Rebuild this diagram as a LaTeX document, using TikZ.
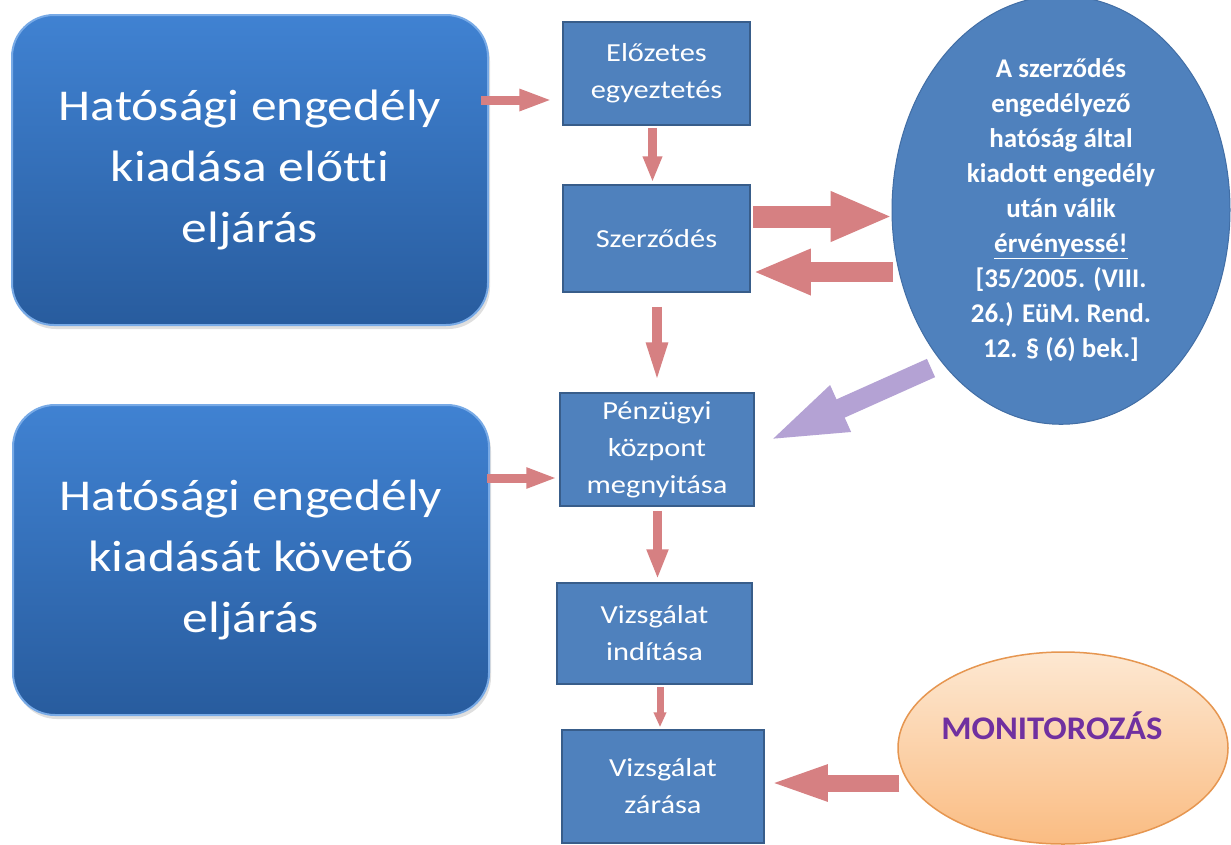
\documentclass[tikz,border=0pt]{standalone}
\usepackage{fontspec}
\setmainfont{Carlito}[FakeStretch=1.17,RawFeature={-liga;-clig;-calt;-dlig}]
\newfontfamily\ellfont{Carlito}[FakeStretch=1.0,RawFeature={-liga;-clig;-calt;-dlig}]
\newfontfamily\monfont{Carlito}[FakeStretch=1.05,RawFeature={-liga;-clig;-calt;-dlig}]
\usetikzlibrary{arrows.meta,shapes.geometric,calc,shadows}
\definecolor{bigtop}{RGB}{64,130,210}
\definecolor{bigbot}{RGB}{40,92,158}
\definecolor{bigedge}{RGB}{120,170,230}
\definecolor{boxfill}{RGB}{79,129,189}
\definecolor{boxedge}{RGB}{56,93,138}
\definecolor{ellfill}{RGB}{79,129,189}
\definecolor{elledge}{RGB}{66,110,165}
\definecolor{arrowpink}{RGB}{214,128,130}
\definecolor{arrowpurple}{RGB}{180,162,212}
\definecolor{montop}{RGB}{253,232,210}
\definecolor{monbot}{RGB}{250,188,130}
\definecolor{monedge}{RGB}{230,150,80}
\definecolor{montext}{RGB}{112,48,160}
\begin{document}
\begin{tikzpicture}[x=1pt,y=-1pt,
  bigbox/.style={rectangle,rounded corners=42pt,top color=bigtop,bottom color=bigbot,
    draw=bigedge,line width=2pt,minimum width=476pt,minimum height=310pt,
    text=white,align=center,font=\fontsize{44}{61}\selectfont,
    drop shadow={opacity=0.25,shadow xshift=2pt,shadow yshift=-4pt}},
  smallbox/.style={rectangle,fill=boxfill,draw=boxedge,line width=1.5pt,
    text=white,align=center,font=\fontsize{26}{37}\selectfont,inner sep=0pt},
  pinkarrow/.style={draw=arrowpink,fill=arrowpink},
  purplearrow/.style={draw=arrowpurple,fill=arrowpurple}
]
\useasboundingbox (0,0) rectangle (1231,844);
\fill[white] (0,0) rectangle (1231,844);

% big rounded boxes
\node[bigbox] (b1) at (250,170) {Hatósági engedély\\kiadása előtti\\eljárás};
\node[bigbox] (b2) at (251,560) {Hatósági engedély\\kiadását követő\\eljárás};

% small process boxes
\node[smallbox,minimum width=187pt,minimum height=103pt] (e1) at (656.5,73.5) {Előzetes\\egyeztetés};
\node[smallbox,minimum width=187pt,minimum height=107pt] (sz) at (656.5,238.5) {Szerződés};
\node[smallbox,minimum width=194pt,minimum height=113pt] (pk) at (657,449.5) {Pénzügyi\\központ\\megnyitása};
\node[smallbox,minimum width=195pt,minimum height=101pt] (vi) at (654.5,633.5) {Vizsgálat\\indítása};
\node[smallbox,minimum width=202pt,minimum height=113pt] (vz) at (663,786.5) {Vizsgálat\\zárása};

% blue ellipse
\node[ellipse,fill=ellfill,draw=elledge,line width=1pt,minimum width=338pt,minimum height=390pt,inner sep=0pt,
  text=white,align=center,font=\ellfont\bfseries\fontsize{27}{35}\selectfont] (el) at (1061,210)
  {A szerződés\\engedélyező\\hatóság által\\kiadott engedély\\után válik\\\underline{érvényessé!}\\{}[35/2005. (VIII.\\26.) EüM. Rend.\\12. § (6) bek.]};

% orange ellipse
\node[ellipse,top color=montop,bottom color=monbot,draw=monedge,line width=1.5pt,
  minimum width=330pt,minimum height=192pt,inner sep=0pt] (mon) at (1063,748) {};
\node[text=montext,font=\monfont\bfseries\fontsize{33}{38}\selectfont,inner sep=0pt] (montxt)
  at ($(mon.center)+(-11,-22)$) {MONITOROZÁS};

% arrows
\draw[pinkarrow,line width=9pt,-{Triangle[length=33pt,width=20pt]}]
  ($(b1.east)+(-8,-70)$) -- ($(e1.west)+(-10,26.5)$);
\draw[pinkarrow,line width=9pt,-{Triangle[length=26pt,width=18pt]}]
  ($(e1.south)+(-4,2)$) -- ($(sz.north)+(-4,-2)$);
\draw[pinkarrow,line width=22pt,-{Triangle[length=62pt,width=46pt]}]
  ($(sz.east)+(2,-22)$) -- ($(el.west)+(1,6.5)$);
\draw[pinkarrow,line width=20pt,-{Triangle[length=58pt,width=42pt]}]
  ($(el.west)+(1,62)$) -- ($(sz.east)+(2,33.5)$);
\draw[pinkarrow,line width=10pt,-{Triangle[length=42pt,width=19pt]}]
  ($(sz.south)+(0.5,14)$) -- ($(pk.north)+(0,-8)$);
\draw[purplearrow,line width=20pt,-{Triangle[length=82pt,width=44pt]}]
  ($(el.center)+(-130,158)$) -- ($(pk.east)+(11,-7.5)$);
\draw[pinkarrow,line width=9pt,-{Triangle[length=31pt,width=19pt]}]
  ($(b2.east)+(-3,-82)$) -- ($(pk.west)+(-2,28.5)$);
\draw[pinkarrow,line width=9pt,-{Triangle[length=30pt,width=20pt]}]
  ($(pk.south)+(0.5,4)$) -- ($(vi.north)+(3,-3)$);
\draw[pinkarrow,line width=7pt,-{Triangle[length=15pt,width=12pt]}]
  ($(vi.south)+(5.5,2)$) -- ($(vz.north)+(-3,-2)$);
\draw[pinkarrow,line width=17pt,-{Triangle[length=60pt,width=32pt]}]
  ($(mon.west)+(2,35)$) -- ($(vz.east)+(3,-3.5)$);
\end{tikzpicture}
\end{document}
